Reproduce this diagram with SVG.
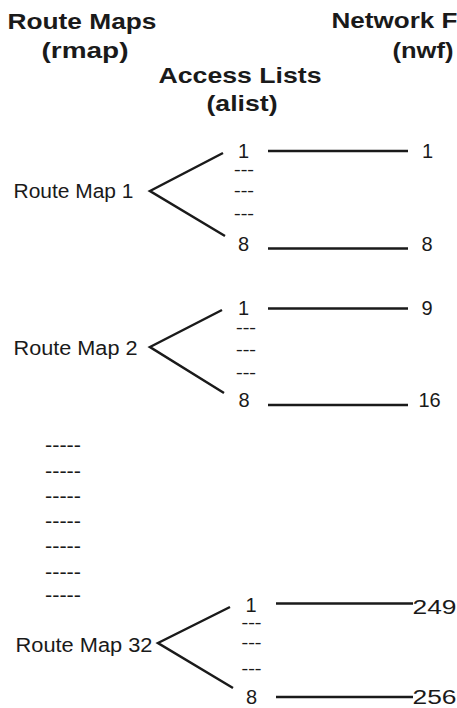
<svg xmlns="http://www.w3.org/2000/svg" width="457" height="708" viewBox="0 0 457 708">
<style>
  .title { font-family: "Liberation Sans", Arial, sans-serif; font-weight: bold; font-size: 22.5px; fill: #1a1a1a; }
  .lbl { font-family: "Liberation Sans", Arial, sans-serif; font-size: 20px; fill: #1a1a1a; }
  .dash { font-family: "Liberation Sans", Arial, sans-serif; font-weight: bold; font-size: 11px; fill: #1a1a1a; text-anchor: middle; }
  .mid { text-anchor: middle; }
  .conn { fill: none; stroke: #1a1a1a; stroke-width: 2.5; stroke-linecap: butt; stroke-linejoin: miter; }
</style>
<rect width="457" height="708" fill="#ffffff"/>

<g id="headers">
  <text class="title" x="7.5" y="29" textLength="149" lengthAdjust="spacingAndGlyphs">Route Maps</text>
  <text class="title" x="41.5" y="58" textLength="87" lengthAdjust="spacingAndGlyphs">(rmap)</text>
  <text class="title" x="158.5" y="83" textLength="163" lengthAdjust="spacingAndGlyphs">Access Lists</text>
  <text class="title" x="206.5" y="111" textLength="71" lengthAdjust="spacingAndGlyphs">(alist)</text>
  <text class="title" x="331.5" y="28" textLength="126" lengthAdjust="spacingAndGlyphs">Network F</text>
  <text class="title" x="392.5" y="58" textLength="61" lengthAdjust="spacingAndGlyphs">(nwf)</text>
</g>

<g id="rmap1">
  <text class="lbl" x="13.5" y="198" textLength="120" lengthAdjust="spacingAndGlyphs">Route Map 1</text>
</g>
<g id="rmap1-alist">
  <text class="lbl mid" x="243.5" y="158">1</text>
  <text class="dash" x="244" y="172.5" textLength="20" lengthAdjust="spacingAndGlyphs">---</text>
  <text class="dash" x="244" y="194" textLength="20" lengthAdjust="spacingAndGlyphs">---</text>
  <text class="dash" x="244" y="216.5" textLength="20" lengthAdjust="spacingAndGlyphs">---</text>
  <text class="lbl mid" x="243.5" y="251">8</text>
</g>
<g id="rmap1-nwf">
  <text class="lbl mid" x="427.5" y="158">1</text>
  <text class="lbl mid" x="427" y="251">8</text>
</g>

<g id="rmap2">
  <text class="lbl" x="13.5" y="355" textLength="124" lengthAdjust="spacingAndGlyphs">Route Map 2</text>
</g>
<g id="rmap2-alist">
  <text class="lbl mid" x="243.5" y="315">1</text>
  <text class="dash" x="246" y="331" textLength="20" lengthAdjust="spacingAndGlyphs">---</text>
  <text class="dash" x="246" y="352.5" textLength="20" lengthAdjust="spacingAndGlyphs">---</text>
  <text class="dash" x="246" y="376" textLength="20" lengthAdjust="spacingAndGlyphs">---</text>
  <text class="lbl mid" x="244" y="407">8</text>
</g>
<g id="rmap2-nwf">
  <text class="lbl mid" x="427" y="315">9</text>
  <text class="lbl mid" x="429.5" y="407">16</text>
</g>

<g id="ellipsis">
  <text class="lbl" x="45" y="451.5" textLength="36" lengthAdjust="spacingAndGlyphs">-----</text>
  <text class="lbl" x="45" y="477.5" textLength="36" lengthAdjust="spacingAndGlyphs">-----</text>
  <text class="lbl" x="45" y="502.5" textLength="36" lengthAdjust="spacingAndGlyphs">-----</text>
  <text class="lbl" x="45" y="527.5" textLength="36" lengthAdjust="spacingAndGlyphs">-----</text>
  <text class="lbl" x="45" y="552.5" textLength="36" lengthAdjust="spacingAndGlyphs">-----</text>
  <text class="lbl" x="45" y="578.5" textLength="36" lengthAdjust="spacingAndGlyphs">-----</text>
  <text class="lbl" x="45" y="601.5" textLength="36" lengthAdjust="spacingAndGlyphs">-----</text>
</g>

<g id="rmap32">
  <text class="lbl" x="15.5" y="652" textLength="137" lengthAdjust="spacingAndGlyphs">Route Map 32</text>
</g>
<g id="rmap32-alist">
  <text class="lbl mid" x="251" y="612">1</text>
  <text class="dash" x="251.5" y="626.3" textLength="20" lengthAdjust="spacingAndGlyphs">---</text>
  <text class="dash" x="251.5" y="646" textLength="20" lengthAdjust="spacingAndGlyphs">---</text>
  <text class="dash" x="251.5" y="671.5" textLength="20" lengthAdjust="spacingAndGlyphs">---</text>
  <text class="lbl mid" x="251.5" y="704">8</text>
</g>
<g id="rmap32-nwf">
  <text class="lbl" x="412.5" y="614" textLength="44" lengthAdjust="spacingAndGlyphs">249</text>
  <text class="lbl" x="412.5" y="704" textLength="44" lengthAdjust="spacingAndGlyphs">256</text>
</g>

<g id="connectors">
  <polyline class="conn" points="223,153 150,191 225,236"/>
  <line class="conn" x1="268" y1="151" x2="408" y2="151"/>
  <line class="conn" x1="268" y1="248.5" x2="408" y2="248.5"/>

  <polyline class="conn" points="222,310 150,347 224,393"/>
  <line class="conn" x1="268" y1="308.5" x2="408" y2="308.5"/>
  <line class="conn" x1="268" y1="405" x2="408" y2="405"/>

  <polyline class="conn" points="230,607 158,643 233,688"/>
  <line class="conn" x1="276" y1="603.5" x2="413" y2="603.5"/>
  <line class="conn" x1="276" y1="697" x2="413" y2="697"/>
</g>
</svg>
